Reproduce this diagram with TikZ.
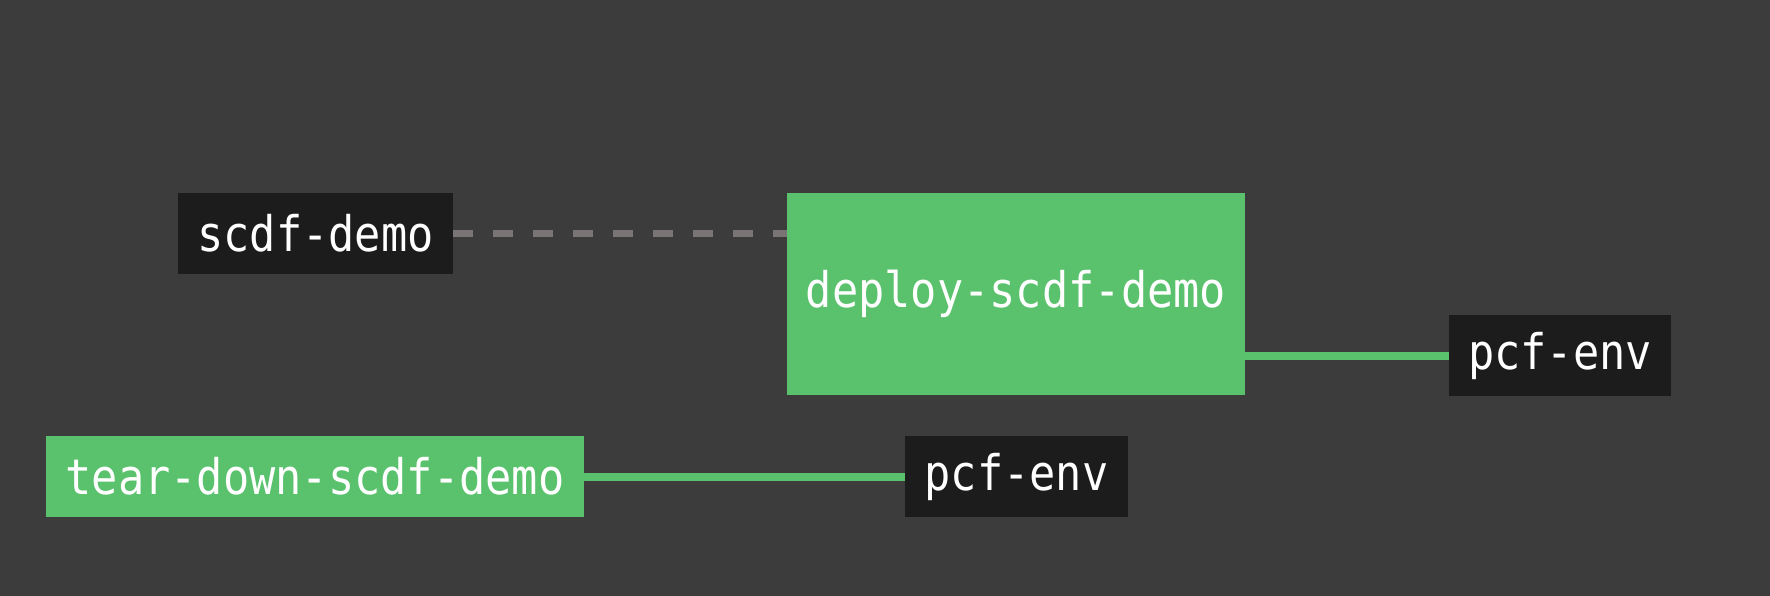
\documentclass[tikz,border=0pt]{standalone}
\usepackage{fontspec}
\newfontfamily\codefont[FakeStretch=0.89]{DejaVu Sans Mono}
\usetikzlibrary{positioning}

\definecolor{bgcol}{HTML}{3C3C3C}
\definecolor{rescol}{HTML}{1C1C1C}
\definecolor{jobcol}{HTML}{5AC16D}
\definecolor{dashcol}{HTML}{7A7474}

\tikzset{
	resbox/.style={fill=rescol, text=white, inner sep=0pt, font=\codefont\fontsize{49}{56}\selectfont},
	jobbox/.style={fill=jobcol, text=white, inner sep=0pt, font=\codefont\fontsize{49}{56}\selectfont},
}

\begin{document}
\begin{tikzpicture}[x=1pt, y=-1pt]
	\fill [bgcol] (0,0) rectangle (1770,596);
	\useasboundingbox (0,0) rectangle (1770,596);

	% resources
	\node [resbox, minimum width=275pt, minimum height=81pt] (scdf) at (315.5,233.5) {scdf-demo};
	\node [resbox, minimum width=222pt, minimum height=81pt] (pcfa) at (1560,355.5) {pcf-env};
	\node [resbox, minimum width=223pt, minimum height=81pt] (pcfb) at (1016.5,476.5) {pcf-env};

	% jobs
	\node [jobbox, minimum width=458pt, minimum height=202pt] (deploy) at (1016,294) {deploy-scdf-demo};
	\node [jobbox, minimum width=538pt, minimum height=81pt] (teardown) at (315,476.5) {tear-down-scdf-demo};

	% connectors
	\draw [dashcol, line width=7pt, dash pattern=on 20pt off 20pt] (scdf.east) -- (scdf.east -| deploy.west);
	\draw [jobcol, line width=8pt] (deploy.east |- pcfa) -- (pcfa.west);
	\draw [jobcol, line width=8pt] (teardown.east) -- (pcfb.west);
\end{tikzpicture}
\end{document}
